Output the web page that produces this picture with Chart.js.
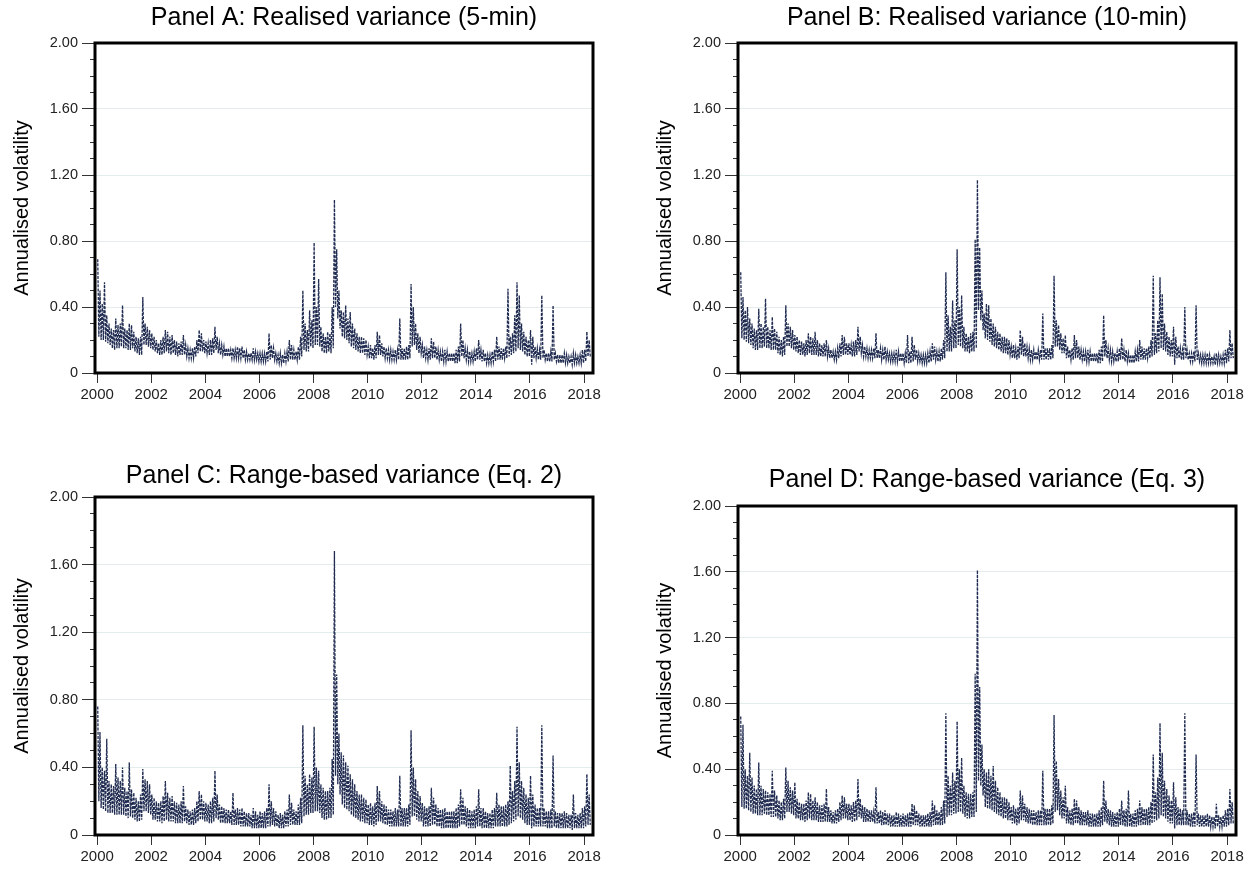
<!DOCTYPE html>
<html>
<head>
<meta charset="utf-8">
<title>Annualised volatility</title>
<script src="https://cdn.jsdelivr.net/npm/chart.js@4.4.1/dist/chart.umd.min.js"></script>
<style>
    html, body { margin: 0; padding: 0; background: #fff; overflow: hidden; width: 1252px; height: 869px; }
    .panel { position: absolute; }
</style>
</head>
<body>
<canvas id="panelA" class="panel"></canvas>
<canvas id="panelB" class="panel"></canvas>
<canvas id="panelC" class="panel"></canvas>
<canvas id="panelD" class="panel"></canvas>
<script>
// Monthly series, Jan 2000 - Mar 2018 in hundredths.
// "High" is the top of the band (incl. spikes), "Low" is the bottom of the band.
const startYear = 2000;
const xTickYears = [2000, 2002, 2004, 2006, 2008, 2010, 2012, 2014, 2016, 2018];
const yTickValues = [0, 0.1, 0.2, 0.3, 0.4, 0.5, 0.6, 0.7, 0.8, 0.9, 1.0, 1.1, 1.2, 1.3, 1.4, 1.5, 1.6, 1.7, 1.8, 1.9, 2.0];
const yLabelValues = [0, 0.4, 0.8, 1.2, 1.6, 2.0];

const panelAHigh = [
    69,50,42,55,35,30,27,26,33,29,30,41,
    27,26,30,29,25,22,21,22,46,30,28,26,
    24,22,20,18,20,22,26,25,22,23,20,19,
    18,19,23,17,15,14,15,16,20,26,24,20,
    19,18,20,21,28,22,18,17,16,15,15,14,
    15,14,16,15,16,14,13,12,12,15,13,12,
    12,12,12,13,24,17,15,12,11,12,11,12,
    13,20,17,14,13,16,22,50,30,26,38,32,
    79,40,57,28,24,22,25,24,40,105,75,50,
    38,37,41,33,37,30,27,24,22,22,21,20,
    16,17,15,17,25,23,18,16,15,14,14,13,
    14,14,33,15,15,16,17,54,40,30,24,22,
    17,16,14,15,21,19,16,14,13,13,14,13,
    12,12,12,14,16,30,20,15,14,13,12,13,
    15,20,14,14,12,11,11,13,14,22,16,15,
    15,16,51,22,24,35,55,47,30,25,22,20,
    26,22,16,15,14,47,14,12,12,13,41,12,
    11,11,11,12,11,10,10,12,11,10,11,14,
    14,25,20
];
const panelALow = [
    22,20,20,19,18,17,15,14,15,15,16,15,
    15,14,14,15,13,12,11,11,17,17,16,15,
    14,13,12,11,11,12,13,12,11,12,11,10,
    11,11,11,10,9,9,9,10,12,13,13,12,
    12,11,11,12,14,12,11,11,10,10,10,9,
    9,9,9,9,9,8,8,8,8,8,8,7,
    7,7,7,7,8,9,8,7,6,6,6,7,
    7,8,8,8,8,8,10,14,13,13,16,15,
    17,17,16,13,12,12,13,12,15,40,33,27,
    22,21,20,18,16,15,14,13,12,12,11,11,
    9,9,8,9,11,11,10,9,9,8,8,8,
    8,8,8,8,8,8,9,16,17,14,12,12,
    9,9,8,8,9,9,8,8,7,7,7,7,
    7,7,6,6,7,10,9,8,7,7,7,7,
    8,8,7,7,6,6,6,7,7,8,8,8,
    9,9,10,11,12,13,15,14,13,11,10,10,
    5,9,9,8,8,9,8,7,7,7,8,7,
    6,6,6,6,6,6,5,6,6,6,6,6,
    7,10,10
];

const panelBHigh = [
    61,46,38,40,33,30,27,26,39,30,28,45,
    28,26,34,27,25,22,20,22,41,30,28,26,
    23,22,20,19,18,20,24,22,21,25,20,18,
    17,18,20,15,14,13,13,15,18,23,22,18,
    18,17,19,20,28,22,17,16,15,14,14,15,
    24,14,15,14,16,13,12,12,12,14,13,12,
    12,12,23,13,22,17,14,12,11,11,11,12,
    13,18,16,13,13,15,20,61,35,28,44,32,
    75,40,47,28,24,22,24,25,81,117,76,50,
    36,42,41,33,30,28,25,24,22,22,21,20,
    16,17,15,16,26,22,18,16,15,14,14,13,
    14,14,36,15,15,15,17,59,32,29,24,21,
    23,16,14,15,23,20,16,14,13,13,14,13,
    12,12,12,14,16,35,20,15,14,13,12,13,
    15,21,14,14,12,11,11,13,14,20,16,15,
    15,16,20,59,24,32,58,48,30,25,22,20,
    28,22,16,15,14,40,14,12,12,13,41,12,
    11,11,11,12,11,10,10,12,11,10,11,14,
    15,26,18
];
const panelBLow = [
    21,20,19,18,17,15,14,14,15,15,16,15,
    15,14,14,14,12,11,10,11,16,16,15,14,
    13,12,11,11,10,11,12,11,11,11,10,10,
    10,10,10,9,9,8,8,9,10,11,11,11,
    11,10,10,11,13,12,10,10,9,9,9,9,
    9,9,8,8,8,8,7,7,7,7,7,7,
    6,6,6,6,7,8,7,7,6,6,6,6,
    7,8,8,7,7,8,9,13,13,13,15,15,
    17,16,15,13,13,12,13,13,15,38,32,26,
    21,20,19,17,16,15,14,13,12,12,11,11,
    9,9,8,9,11,10,10,9,8,8,8,8,
    8,8,8,8,8,8,9,16,16,14,12,12,
    9,9,8,8,9,9,8,8,7,7,7,7,
    7,7,6,6,7,10,9,8,7,7,7,7,
    8,8,7,7,6,6,6,7,7,8,8,8,
    9,9,10,11,12,13,15,14,13,11,10,10,
    5,9,9,8,8,9,8,7,7,7,8,7,
    6,6,6,6,6,6,5,6,6,6,6,6,
    7,9,9
];

const panelCHigh = [
    76,61,40,38,57,32,30,29,42,34,32,40,
    28,26,43,27,25,22,20,24,39,33,32,30,
    24,22,20,19,20,23,32,25,22,23,20,19,
    18,20,29,17,15,14,15,16,20,26,24,20,
    19,18,20,22,38,24,18,17,16,15,15,14,
    25,15,16,15,16,14,13,13,12,16,14,12,
    14,13,14,16,30,20,16,14,12,13,12,14,
    15,24,19,15,14,18,22,65,35,30,36,34,
    64,40,38,30,28,26,26,28,45,168,95,60,
    49,47,43,41,36,33,30,26,24,24,22,21,
    18,19,17,19,29,26,20,18,17,15,15,14,
    16,15,35,16,16,16,18,62,40,33,26,23,
    19,17,16,17,28,22,18,16,15,15,16,14,
    14,14,14,16,18,27,22,17,16,15,14,15,
    17,27,16,16,14,13,13,15,16,25,18,17,
    17,18,20,41,26,32,64,43,32,28,24,22,
    35,24,18,16,16,65,16,14,14,15,47,14,
    13,13,13,14,13,12,12,24,13,12,13,16,
    17,36,24
];
const panelCLow = [
    20,16,15,14,13,13,13,12,12,12,12,12,
    11,10,11,10,9,8,8,9,14,14,13,12,
    9,9,8,8,7,8,9,8,8,8,7,7,
    7,7,8,7,6,6,6,7,8,9,9,8,
    8,7,7,8,10,9,7,7,7,7,7,6,
    6,6,6,5,5,5,5,5,4,4,4,4,
    4,4,4,5,5,6,5,5,4,4,4,5,
    5,6,6,6,6,6,7,11,12,12,13,13,
    14,14,13,10,9,9,10,10,12,35,30,24,
    18,16,15,14,12,11,10,9,8,8,7,7,
    6,6,5,6,8,8,7,6,6,5,5,5,
    5,5,5,5,5,5,6,11,11,9,8,8,
    5,5,5,5,6,6,5,5,4,4,4,4,
    4,4,4,4,5,6,6,5,4,4,4,4,
    5,5,4,4,4,4,4,4,5,5,5,5,
    5,5,6,7,8,9,11,10,9,7,6,6,
    4,5,5,5,5,5,5,4,4,4,5,4,
    4,4,4,4,4,4,3,4,4,4,4,4,
    5,6,6
];

const panelDHigh = [
    72,67,40,36,50,35,30,28,44,30,28,27,
    26,25,39,27,24,21,20,22,41,33,29,27,
    32,22,20,19,19,21,26,25,21,23,20,18,
    18,19,28,17,15,14,15,16,20,24,23,19,
    19,18,20,21,34,22,18,17,16,15,15,14,
    29,14,15,14,15,13,13,12,12,14,13,12,
    13,12,13,14,19,18,15,13,12,12,12,13,
    14,21,18,15,14,17,21,74,36,30,38,33,
    69,40,47,30,26,25,25,26,98,161,90,55,
    40,38,40,36,42,33,29,26,23,23,22,20,
    17,18,16,17,27,24,19,17,16,15,15,14,
    15,15,39,16,16,16,18,73,45,34,27,23,
    30,17,15,16,22,21,17,15,14,14,15,13,
    13,13,13,15,17,33,21,16,15,14,13,14,
    16,21,15,16,27,13,13,15,16,21,17,16,
    16,17,20,49,26,35,68,50,33,28,24,21,
    32,23,17,16,15,74,15,13,13,14,49,13,
    12,12,12,13,12,11,11,19,12,11,12,15,
    16,28,20
];
const panelDLow = [
    17,16,16,15,14,13,13,12,12,12,13,12,
    12,11,11,11,10,9,9,10,14,14,13,12,
    10,10,9,9,8,9,10,9,9,9,8,8,
    8,8,8,8,7,7,7,8,9,10,10,9,
    9,8,8,9,11,10,8,8,8,8,8,7,
    7,7,6,6,6,6,5,5,5,5,5,5,
    5,5,5,5,6,6,6,5,5,5,5,5,
    5,6,6,6,6,6,7,11,12,12,13,13,
    14,14,13,11,10,10,11,11,14,33,30,24,
    17,16,16,15,14,13,12,11,10,10,9,9,
    7,7,6,7,9,9,8,7,7,6,6,6,
    6,6,6,6,6,6,7,14,15,12,10,10,
    7,7,6,6,7,7,6,6,6,6,5,5,
    5,5,5,5,6,8,7,6,5,5,5,5,
    6,6,5,5,5,5,5,5,6,6,6,6,
    6,6,7,8,9,10,12,11,10,8,7,7,
    4,6,6,6,6,6,6,5,5,5,6,5,
    5,5,5,5,5,5,4,5,5,5,5,5,
    6,7,7
];

const fontFamily = "'Liberation Sans', Arial, Helvetica, sans-serif";
const lineColour = '#1f2b50';

function isMajor(value) {
    return yLabelValues.some(v => Math.abs(v - value) < 1e-6);
}

// two points a month: top of band, then bottom of band
function buildSeries(high, low) {
    const points = [];
    high.forEach((h, i) => {
        const month = startYear + i / 12;
        points.push({ x: month + 1 / 48, y: h / 100 });
        points.push({ x: month + 3 / 48, y: low[i] / 100 });
    });
    return points;
}

// thick black frame round the plot area
const framePlugin = {
    id: 'frame',
    afterDraw(chart) {
        const { ctx, chartArea: a } = chart;
        ctx.save();
        ctx.strokeStyle = '#000';
        ctx.lineWidth = 3;
        ctx.strokeRect(a.left, a.top, a.right - a.left, a.bottom - a.top);
        ctx.restore();
    }
};

function makePanel(id, title, high, low, box) {
    const canvas = document.getElementById(id);
    canvas.width = box.w;
    canvas.height = box.h;
    canvas.style.left = box.x + 'px';
    canvas.style.top = box.y + 'px';
    canvas.style.width = box.w + 'px';
    canvas.style.height = box.h + 'px';

    return new Chart(canvas, {
        type: 'line',
        data: {
            datasets: [{
                data: buildSeries(high, low),
                borderColor: lineColour,
                borderWidth: 1.3,
                borderDash: [3, 1.2],
                pointRadius: 0,
                tension: 0,
                fill: false
            }]
        },
        options: {
            responsive: false,
            animation: false,
            events: [],
            layout: { padding: { left: 0, right: box.padRight, top: 0, bottom: 0 } },
            plugins: {
                legend: { display: false },
                tooltip: { enabled: false },
                title: {
                    display: true,
                    fullSize: false,
                    text: title,
                    color: '#000',
                    font: { family: fontFamily, size: 25, weight: 'normal' },
                    padding: { top: box.titleTop, bottom: box.titleBottom }
                }
            },
            scales: {
                x: {
                    type: 'linear',
                    min: 1999.92,
                    max: 2018.33,
                    afterBuildTicks: scale => { scale.ticks = xTickYears.map(v => ({ value: v })); },
                    afterFit: scale => { scale.height = box.xAxisHeight; },
                    ticks: {
                        autoSkip: false,
                        maxRotation: 0,
                        padding: 3,
                        color: '#222',
                        font: { family: fontFamily, size: 15 },
                        callback: v => String(v)
                    },
                    grid: { drawOnChartArea: false, tickLength: 10, tickColor: '#333' },
                    border: { display: false }
                },
                y: {
                    min: 0,
                    max: 2,
                    afterBuildTicks: scale => { scale.ticks = yTickValues.map(v => ({ value: v })); },
                    afterFit: scale => { scale.width = box.yAxisWidth; },
                    ticks: {
                        autoSkip: false,
                        padding: 4,
                        color: '#222',
                        font: { family: fontFamily, size: 14.5 },
                        callback: v => isMajor(v) ? (v === 0 ? '0' : v.toFixed(2)) : ''
                    },
                    grid: {
                        color: ctx => (ctx.tick && isMajor(ctx.tick.value) && ctx.tick.value > 0 && ctx.tick.value < 2) ? '#e4eded' : 'rgba(0,0,0,0)',
                        tickColor: '#333',
                        tickLength: 13,
                        // minor ticks: only the inner 5px of the tick is drawn
                        tickBorderDash: ctx => (ctx.tick && isMajor(ctx.tick.value)) ? [] : [0, 8, 5, 10]
                    },
                    border: { display: false },
                    title: {
                        display: true,
                        text: 'Annualised volatility',
                        color: '#000',
                        font: { family: fontFamily, size: 20 },
                        padding: { top: 10, bottom: 0 }
                    }
                }
            }
        },
        plugins: [framePlugin]
    });
}

makePanel('panelA', 'Panel A: Realised variance (5-min)', panelAHigh, panelALow,
    { x: 0, y: 0, w: 626, h: 434, padRight: 33, yAxisWidth: 95, xAxisHeight: 61, titleTop: 2.7, titleBottom: 10.3 });
makePanel('panelB', 'Panel B: Realised variance (10-min)', panelBHigh, panelBLow,
    { x: 643, y: 0, w: 609, h: 434, padRight: 16, yAxisWidth: 95, xAxisHeight: 61, titleTop: 2.7, titleBottom: 10.3 });
makePanel('panelC', 'Panel C: Range-based variance (Eq. 2)', panelCHigh, panelCLow,
    { x: 0, y: 434, w: 626, h: 435, padRight: 33, yAxisWidth: 95, xAxisHeight: 34, titleTop: 27, titleBottom: 6 });
makePanel('panelD', 'Panel D: Range-based variance (Eq. 3)', panelDHigh, panelDLow,
    { x: 643, y: 434, w: 609, h: 435, padRight: 16, yAxisWidth: 95, xAxisHeight: 34, titleTop: 31, titleBottom: 11 });
</script>
</body>
</html>
